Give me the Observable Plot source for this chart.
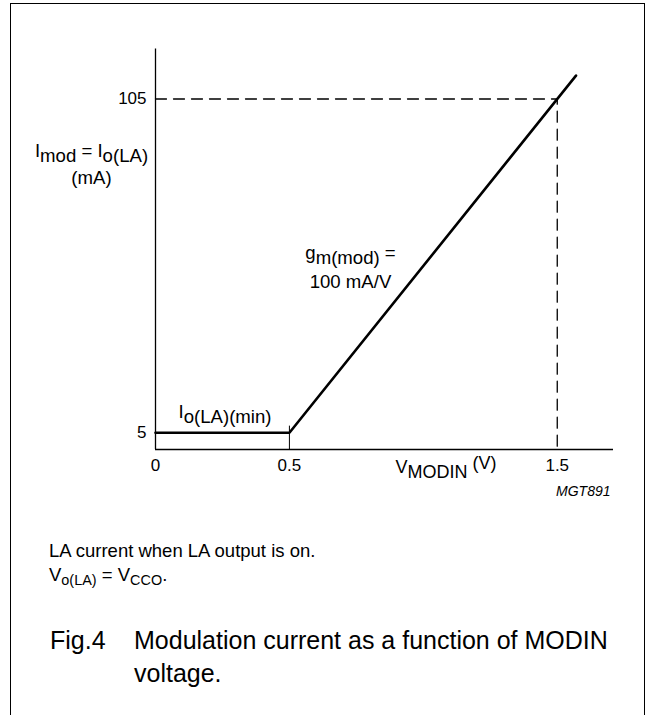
<!DOCTYPE html>
<html><head><meta charset="utf-8">
<script src="https://cdn.jsdelivr.net/npm/d3@7"></script>
<script src="https://cdn.jsdelivr.net/npm/@observablehq/plot@0.6"></script>
<style>
html,body{margin:0;padding:0;background:#fff;}
#page{position:relative;width:653px;height:715px;overflow:hidden;font-family:"Liberation Sans",Arial,Helvetica,sans-serif;color:#000;}
#frame{position:absolute;left:10px;top:3px;width:635px;height:760px;border:1.5px solid #000;border-bottom:none;box-sizing:border-box;}
#chart{position:absolute;left:0;top:0;}
#chart svg text{white-space:pre;}
.cap{position:absolute;left:49px;font-size:18.5px;line-height:18.5px;white-space:nowrap;}
.sub{position:relative;top:0.28em;font-size:0.78em;}
.fig{position:absolute;font-size:25px;line-height:33px;white-space:nowrap;}
</style>
</head><body>
<div id="page"><div id="frame"></div><div id="chart"></div>
<div class="cap" style="top:542.3px">LA current when LA output is on.</div>
<div class="cap" style="top:566.3px">V<span class="sub">o(LA)</span> = V<span class="sub">CCO</span>.</div>
<div class="fig" style="left:50px;top:623.8px">Fig.4</div>
<div class="fig" style="left:134px;top:623.8px">Modulation current as a function of MODIN<br>voltage.</div>
</div>
<script>
// ---- data ----
const curveV = [0, 0.5, 1.57];          // MODIN voltage (V)
const curveI = [5, 5, 112];             // modulation current (mA)
const refV = [0, 1.5, 1.5];             // dashed reference path
const refI = [105, 105, 0];
const kneeV = [0.5];                    // small marker at the knee
const kneeTop = [7];
const xTicks = [0, 0.5, 1.5];
const yTicks = [5, 105];
const xDomain = [0, 1.71];
const yDomain = [0, 120];
const yLabel = ["I_{mod} = I_{o(LA)}", "(mA)"];
const xLabel = "V_{MODIN} ^{(V)}";
const slopeLabel = ["g_{m(mod)} =", "100 mA/V"];
const minLabel = "I_{o(LA)(min)}";
const figCode = "MGT891";

const ML = 155, MT = 48.4;
const curve = curveV.map((v, k) => ({v, i: curveI[k]}));
const ref = refV.map((v, k) => ({v, i: refI[k]}));
const knee = kneeV.map((v, k) => ({v, top: kneeTop[k]}));
const at = (px, py) => ({frameAnchor: "top-left", dx: px - ML, dy: py - MT});
const FS = 18.6;

const chart = Plot.plot({
  width: 653, height: 520,
  marginLeft: ML, marginRight: 40, marginTop: MT, marginBottom: 71,
  x: {domain: xDomain},
  y: {domain: yDomain},
  style: {fontFamily: '"Liberation Sans", Arial, Helvetica, sans-serif', fontSize: "17px", color: "#000", background: "transparent", overflow: "visible"},
  marks: [
    Plot.ruleX([0], {stroke: "#000", strokeWidth: 1.3}),
    Plot.ruleY([0], {stroke: "#000", strokeWidth: 1.3}),
    Plot.line(ref, {x: "v", y: "i", stroke: "#000", strokeWidth: 1.3, strokeDasharray: "11,7"}),
    Plot.ruleX(knee, {x: "v", y1: 0, y2: "top", stroke: "#000", strokeWidth: 1}),
    Plot.line(curve, {x: "v", y: "i", stroke: "#000", strokeWidth: 2.6, strokeLinejoin: "miter"}),
    Plot.axisX(xTicks, {tickSize: 0, tickPadding: 9, label: null, fontSize: 17, tickFormat: d => String(d)}),
    Plot.axisY(yTicks, {tickSize: 0, tickPadding: 9, label: null, fontSize: 17, tickFormat: d => String(d)}),
    Plot.text([yLabel[0]], {...at(91, 156), textAnchor: "middle", lineAnchor: "bottom", fontSize: FS}),
    Plot.text([yLabel[1]], {...at(91, 183), textAnchor: "middle", lineAnchor: "bottom", fontSize: FS}),
    Plot.text([slopeLabel[0]], {...at(350, 258), textAnchor: "middle", lineAnchor: "bottom", fontSize: FS}),
    Plot.text([slopeLabel[1]], {...at(350, 287), textAnchor: "middle", lineAnchor: "bottom", fontSize: FS}),
    Plot.text([minLabel], {...at(178, 417), textAnchor: "start", lineAnchor: "bottom", fontSize: FS}),
    Plot.text([xLabel], {...at(395, 472), textAnchor: "start", lineAnchor: "bottom", fontSize: 18}),
    Plot.text([figCode], {...at(610, 495), textAnchor: "end", lineAnchor: "bottom", fontSize: 14, fontStyle: "italic"})
  ]
});

function richify(root) {
  root.querySelectorAll("text").forEach(el => {
    const s = el.textContent;
    if (!/[_^]\{/.test(s)) return;
    const parts = s.split(/([_^]\{[^}]*\})/).filter(p => p);
    el.textContent = "";
    let cur = 0;
    for (const p of parts) {
      const m = p.match(/^([_^])\{(.*)\}$/);
      const target = m ? (m[1] === "_" ? 0.3 : -0.22) : 0;
      const ts = document.createElementNS("http://www.w3.org/2000/svg", "tspan");
      if (target !== cur) ts.setAttribute("dy", (target - cur).toFixed(2) + "em");
      ts.textContent = m ? m[2] : p;
      el.appendChild(ts);
      cur = target;
    }
  });
}
richify(chart);
document.getElementById("chart").appendChild(chart);
</script>
</body></html>
